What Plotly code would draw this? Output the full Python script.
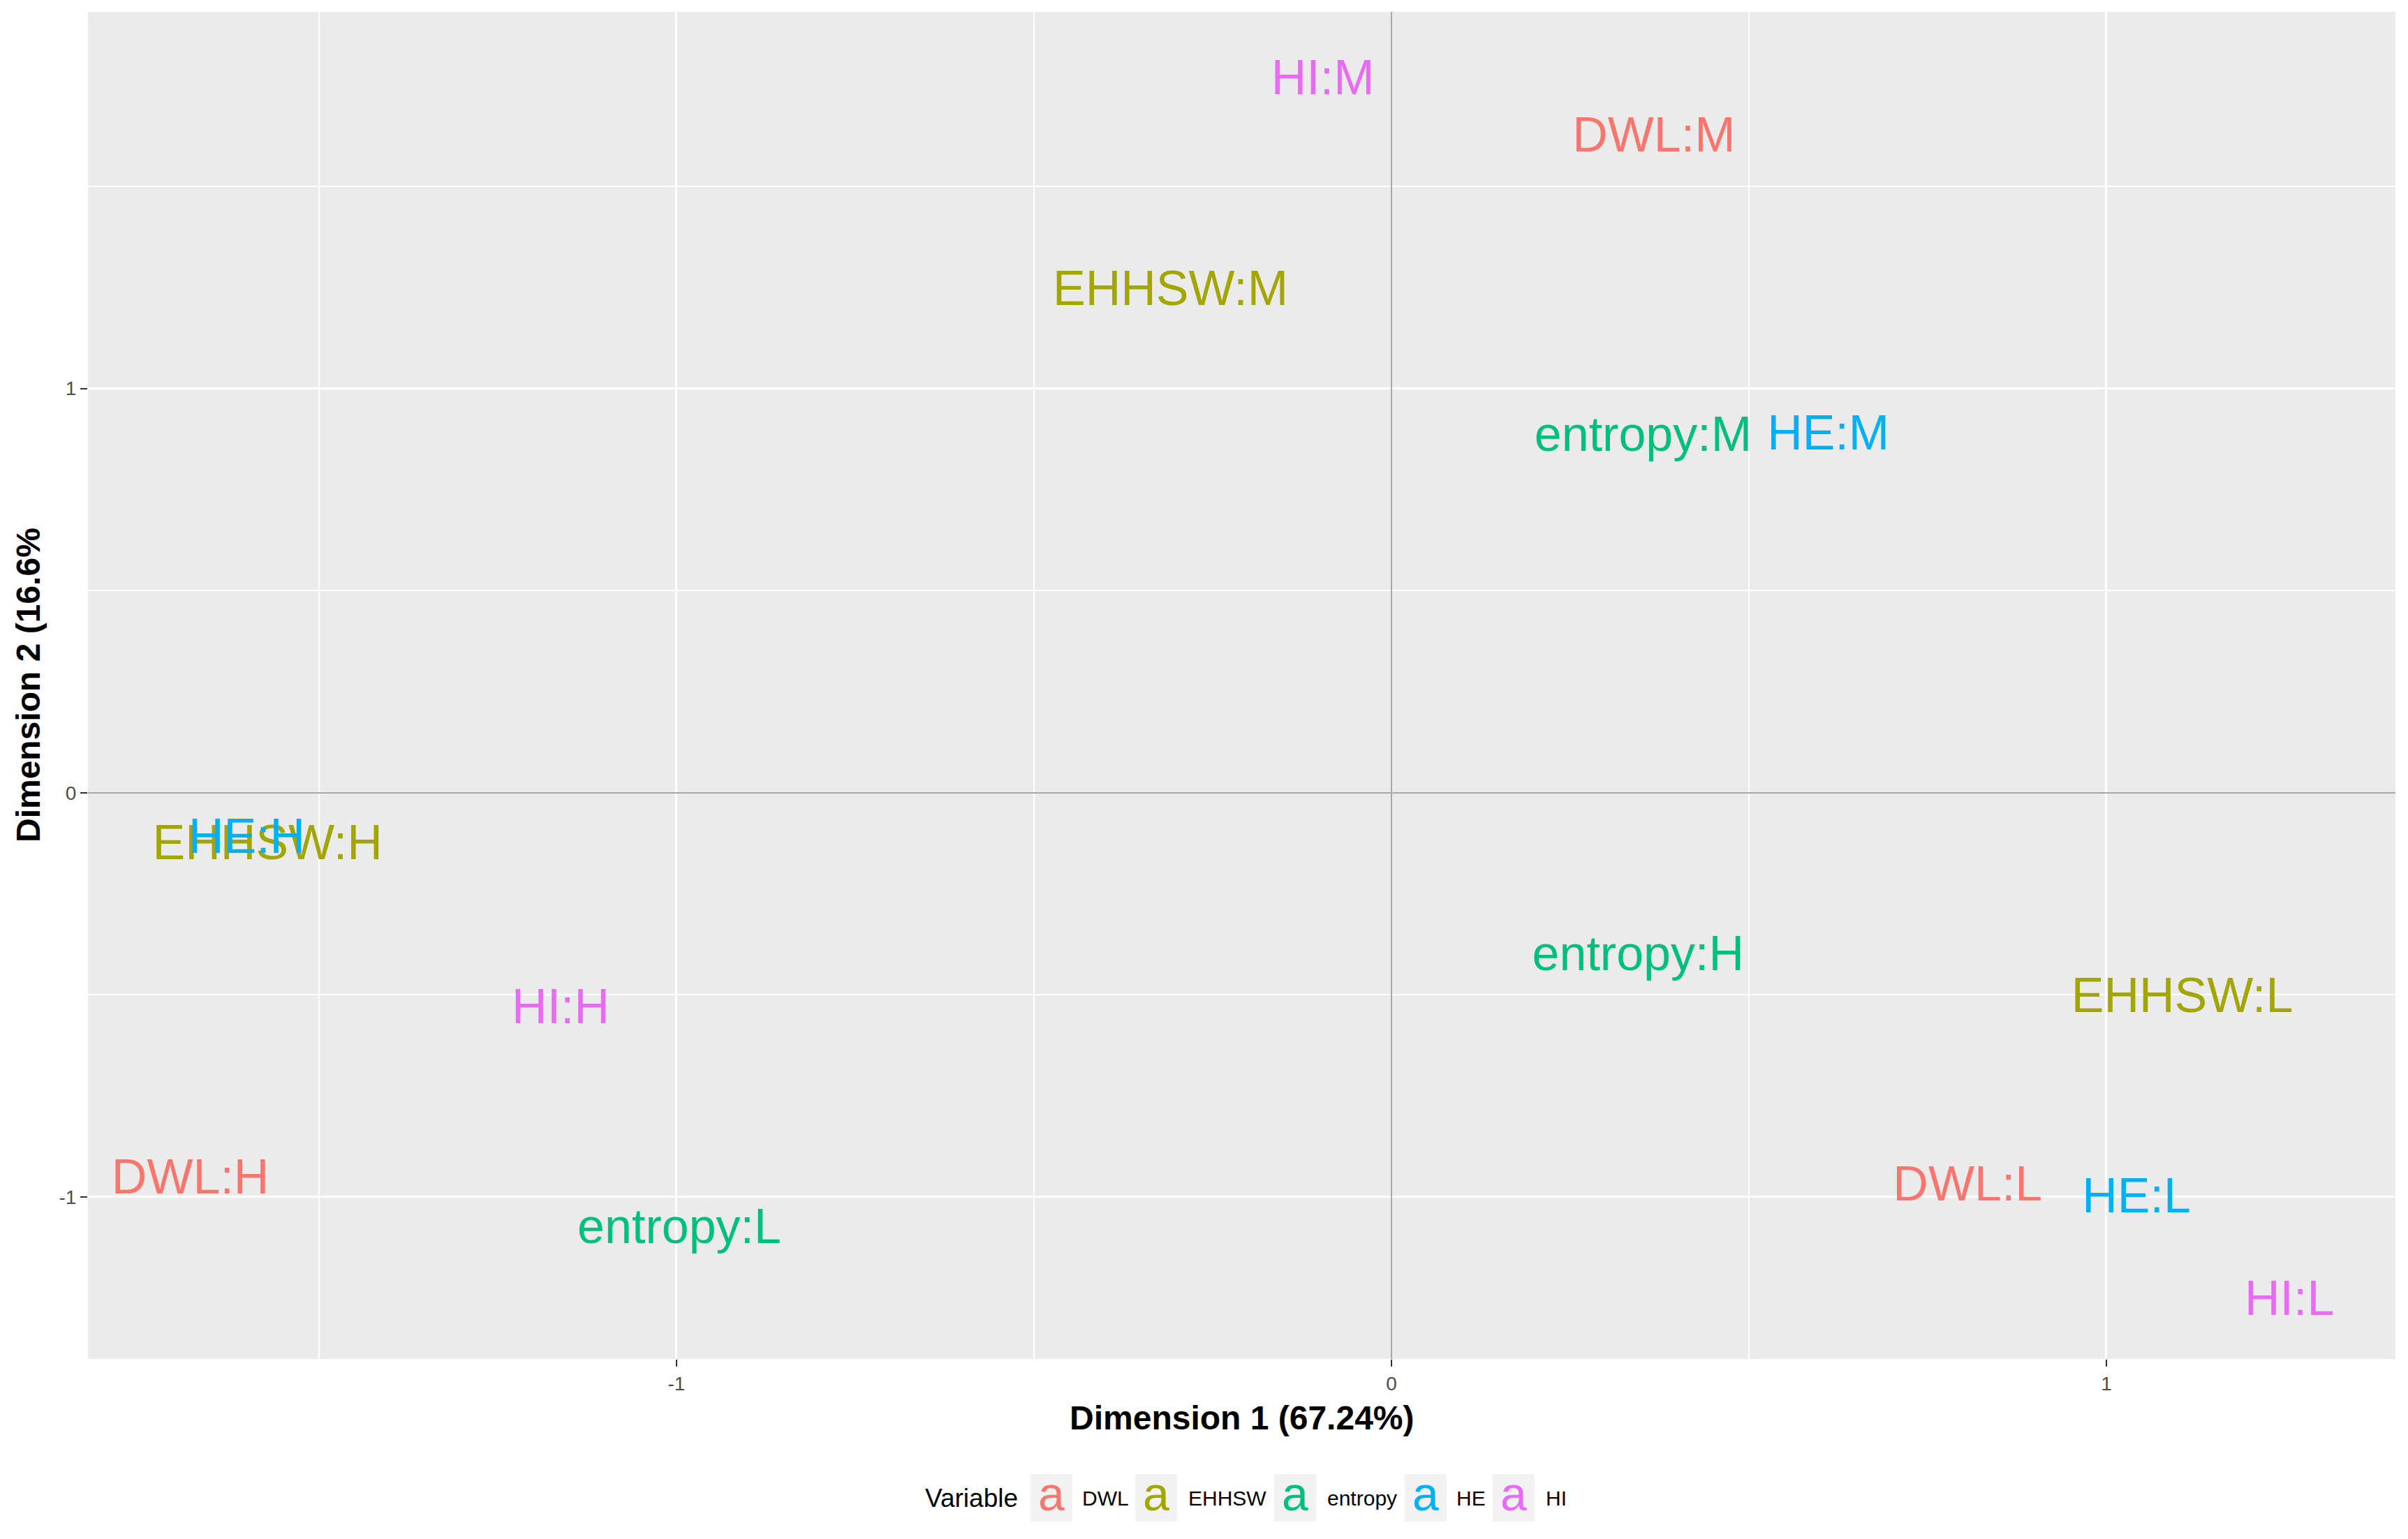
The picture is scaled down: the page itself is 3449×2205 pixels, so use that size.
import plotly.graph_objects as go

# MCA variable categories (factor map)
variables = ['DWL', 'EHHSW', 'entropy', 'HE', 'HI']
colors = ['#F8766D', '#A3A500', '#00BF7D', '#00B0F6', '#E76BF3']

categories = ['DWL:H', 'DWL:L', 'DWL:M',
              'EHHSW:H', 'EHHSW:L', 'EHHSW:M',
              'entropy:H', 'entropy:L', 'entropy:M',
              'HE:H', 'HE:L', 'HE:M',
              'HI:H', 'HI:L', 'HI:M']
dim1 = [-1.680, 0.806, 0.367,
        -1.572, 1.106, -0.309,
        0.345, -0.996, 0.352,
        -1.601, 1.042, 0.611,
        -1.162, 1.256, -0.096]
dim2 = [-0.961, -0.979, 1.617,
        -0.135, -0.513, 1.236,
        -0.409, -1.083, 0.876,
        -0.119, -1.007, 0.880,
        -0.540, -1.262, 1.758]

x_ticks = [-1, 0, 1]
y_ticks = [-1, 0, 1]
tick_labels = ['-1', '0', '1']

FONT = 'Liberation Sans, Arial, sans-serif'
BODY = 8  # default page margin of the html body
W, H = 3449 - BODY, 2205 - BODY
ML, MR, MT, MB = 118, 18, 9, 258
PW, PH = W - ML - MR, H - MT - MB
PANEL_L, PANEL_B = ML + BODY, BODY + H - MB  # page pixels

fig = go.Figure()
for v, c in zip(variables, colors):
    idx = [i for i, k in enumerate(categories) if k.split(':')[0] == v]
    fig.add_trace(go.Scatter(
        x=[dim1[i] for i in idx], y=[dim2[i] for i in idx],
        text=[categories[i] for i in idx], mode='text',
        textposition='middle center',
        textfont=dict(family=FONT, size=70, color=c),
        name=v, showlegend=False))

axis_style = dict(showgrid=True, gridcolor='white', gridwidth=3,
                  zeroline=True, zerolinecolor='#A8A8A8', zerolinewidth=2,
                  ticks='outside', ticklen=10, tickwidth=2, tickcolor='#333333',
                  tickfont=dict(family=FONT, size=28, color='#4D4D4D'),
                  showline=False)
fig.update_xaxes(range=[-1.8232, 1.4043], tickvals=x_ticks, ticktext=tick_labels,
                 minor=dict(tickvals=[-1.5, -0.5, 0.5], showgrid=True,
                            gridcolor='white', gridwidth=2, ticks=''),
                 **axis_style)
fig.update_yaxes(range=[-1.4006, 1.9316], tickvals=y_ticks, ticktext=tick_labels,
                 minor=dict(tickvals=[-0.5, 0.5, 1.5], showgrid=True,
                            gridcolor='white', gridwidth=2, ticks=''),
                 **axis_style)

def px_x(p):
    return (p - PANEL_L) / PW

def px_y(p):
    return (PANEL_B - p) / PH

# axis titles
fig.add_annotation(xref='paper', yref='paper', x=0.5, y=px_y(2032),
                   xanchor='center', yanchor='middle', showarrow=False,
                   text='<b>Dimension 1 (67.24%)</b>',
                   font=dict(family=FONT, size=48, color='black'))
fig.add_annotation(xref='paper', yref='paper', x=px_x(40), y=px_y(982),
                   xanchor='center', yanchor='middle', showarrow=False,
                   textangle=-90, text='<b>Dimension 2 (16.6%</b>',
                   font=dict(family=FONT, size=48, color='black'))

# legend at the bottom, drawn by hand to get the ggplot "a" keys
LEG = 2146
leg_y = px_y(LEG)
fig.add_annotation(xref='paper', yref='paper', x=px_x(1391), y=leg_y,
                   xanchor='center', yanchor='middle', showarrow=False,
                   text='Variable', font=dict(family=FONT, size=37, color='black'))
key_centers = [1506, 1656, 1855, 2042, 2168]
label_lefts = [1548, 1700, 1899, 2084, 2212]
for v, c, kx, lx in zip(variables, colors, key_centers, label_lefts):
    fig.add_shape(type='rect', xref='paper', yref='paper',
                  x0=px_x(kx - 30), x1=px_x(kx + 30),
                  y0=px_y(LEG + 34), y1=px_y(LEG - 34),
                  fillcolor='#F2F2F2', line=dict(width=0))
    fig.add_annotation(xref='paper', yref='paper', x=px_x(kx), y=px_y(LEG - 6),
                       xanchor='center', yanchor='middle', showarrow=False,
                       text='a', font=dict(family=FONT, size=68, color=c))
    fig.add_annotation(xref='paper', yref='paper', x=px_x(lx), y=leg_y,
                       xanchor='left', yanchor='middle', showarrow=False,
                       text=v, font=dict(family=FONT, size=30, color='black'))

fig.update_layout(width=W, height=H,
                  margin=dict(l=ML, r=MR, t=MT, b=MB, autoexpand=False),
                  plot_bgcolor='#EBEBEB', paper_bgcolor='white',
                  font=dict(family=FONT), showlegend=False)

fig.write_html("out.html")
